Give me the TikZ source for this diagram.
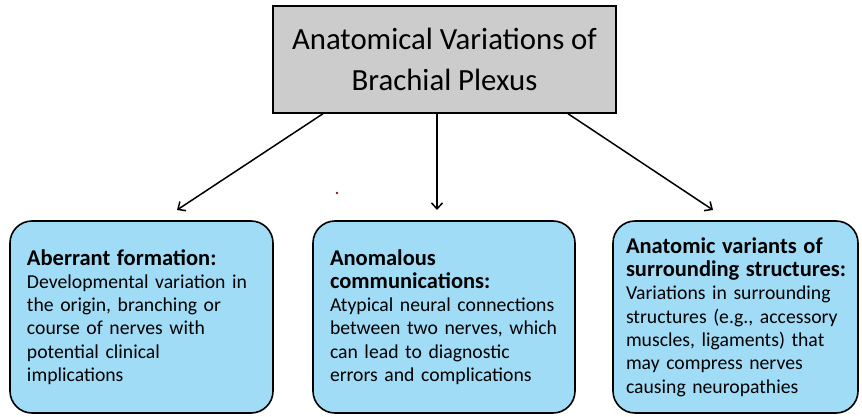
\documentclass[tikz,border=0pt]{standalone}
\usepackage{fontspec}
\setmainfont{Carlito}
\usetikzlibrary{arrows.meta}
\definecolor{boxblue}{RGB}{160,220,245}
\definecolor{titlegray}{RGB}{204,204,204}
\definecolor{dotred}{RGB}{140,20,20}
\newcommand{\boxhead}[1]{{\fontsize{22.5}{23.3}\selectfont\bfseries\mbox{#1}}}

\begin{document}
\begin{tikzpicture}[x=1pt,y=1pt,
    titlebox/.style={rectangle, draw=black, fill=titlegray, line width=1.4pt,
                minimum width=343pt, minimum height=107pt, align=center,
                font=\fontsize{30.8}{41}\selectfont},
    box/.style={rectangle, draw=black, fill=boxblue, rounded corners=22pt, line width=1.6pt,
                minimum height=192pt, inner xsep=17pt, align=left,
                font=\fontsize{19.7}{23.3}\selectfont},
    arr/.style={-{Straight Barb[length=6pt,width=11pt]}, line width=1.5pt}
]
    \useasboundingbox (0,0) rectangle (862,416);

    \node[titlebox] (plexus) at (444.5,356.5) {Anatomical Variations of\\Brachial Plexus};

    \node[box, minimum width=263pt, text width=229pt] (aberrant) at (141.5,99)
        {\boxhead{Aberrant formation:}\\Developmental variation in\\the origin, branching or\\course of nerves with\\potential clinical\\implications};
    \node[box, minimum width=262pt, text width=228pt] (anomal) at (444,99)
        {\boxhead{Anomalous}\\\boxhead{communications:}\\Atypical neural connections\\between two nerves, which\\can lead to diagnostic\\errors and complications};
    \node[box, minimum width=245pt, text width=219pt, inner xsep=13pt] (surround) at (735.5,99)
        {\boxhead{Anatomic variants of}\\\boxhead{surrounding structures:}\\Variations in surrounding\\structures (e.g., accessory\\muscles, ligaments) that\\may compress nerves\\causing neuropathies};

    \coordinate (tipL) at (177,206);
    \coordinate (tipM) at (437,206);
    \coordinate (tipR) at (713,206);

    \draw[arr] ([xshift=-121.5pt]plexus.south) -- (tipL);
    \draw[arr] ([xshift=-7.5pt]plexus.south) -- (tipM);
    \draw[arr] ([xshift=123.5pt]plexus.south) -- (tipR);

    \fill[dotred] (337,223) circle (1.3pt);
\end{tikzpicture}
\end{document}
